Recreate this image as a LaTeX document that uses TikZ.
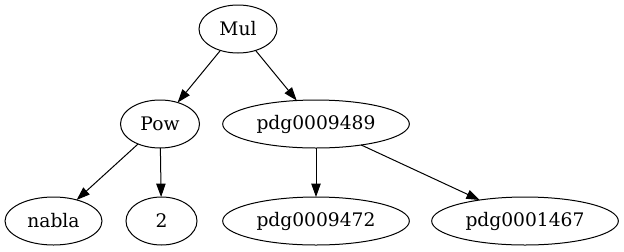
\documentclass[tikz,border=0pt]{standalone}
\usepackage{fontspec}
\setmainfont{DejaVu Serif}
\usetikzlibrary{shapes.geometric,arrows.meta}
\begin{document}
\begin{tikzpicture}[x=0.75pt,y=-0.75pt,
  gnode/.style={draw,ellipse,line width=0.75pt,minimum height=36pt,inner sep=0pt,outer sep=0pt,font=\fontsize{14pt}{16pt}\selectfont},
  gedge/.style={draw,line width=0.75pt,-{Triangle[length=10pt,width=7pt]}}]
\useasboundingbox (0,0) rectangle (624,251);
\node[gnode,minimum width=58.5pt] (mul) at (238,29) {Mul};
\node[gnode,minimum width=59.25pt] (pow) at (160,124) {Pow};
\node[gnode,minimum width=140pt] (p89) at (316,124) {pdg0009489};
\node[gnode,minimum width=72.75pt] (nabla) at (53.5,221) {nabla};
\node[gnode,minimum width=53.25pt] (two) at (161.5,221) {2};
\node[gnode,minimum width=140pt] (p72) at (316,221) {pdg0009472};
\node[gnode,minimum width=140pt] (p67) at (525,221) {pdg0001467};
\draw[gedge] (mul) -- (pow);
\draw[gedge] (mul) -- (p89);
\draw[gedge] (pow) -- (nabla);
\draw[gedge] (pow) -- (two);
\draw[gedge] (p89) -- (p72);
\draw[gedge] (p89) -- (p67);
\end{tikzpicture}
\end{document}
